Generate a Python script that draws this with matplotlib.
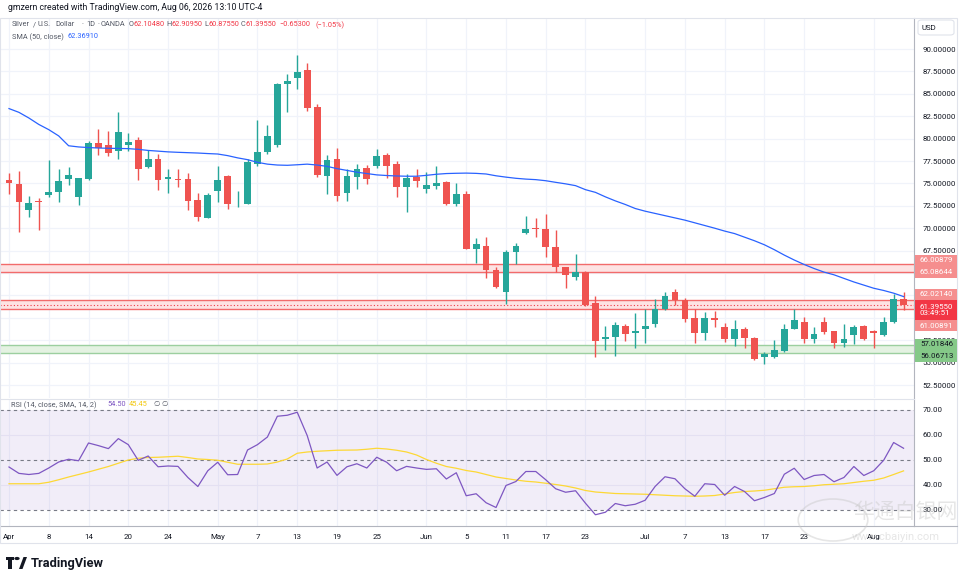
import matplotlib
matplotlib.use("Agg")
import matplotlib.pyplot as plt
from matplotlib.patches import Rectangle, FancyBboxPatch, Circle
import numpy as np

plt.rcParams['font.family'] = ['Roboto', 'DejaVu Sans']

# candles, one per trading day, Apr 1 .. Aug 6
opens = [75.37, 74.93, 72.07, 73.07, 73.66, 74.07, 75.53, 73.52, 75.49, 79.47,
         79.24, 78.62, 79.32, 79.84, 76.86, 77.72, 75.53, 75.49, 75.49, 73.14,
         71.17, 74.19, 75.79, 72.77, 72.74, 77.20, 78.54, 79.25, 86.13, 86.80,
         87.66, 83.52, 75.86, 77.72, 73.89, 75.68, 76.75, 76.98, 78.13, 77.13,
         74.64, 75.75, 74.41, 74.74, 75.16, 72.70, 73.85, 67.72, 68.01, 65.33,
         62.84, 67.31, 69.43, 70.02, 69.95, 67.87, 65.63, 64.59, 65.15, 61.61,
         57.60, 57.82, 59.12, 58.34, 58.79, 59.35, 61.02, 62.84, 61.99, 59.98,
         58.34, 59.98, 58.97, 57.60, 58.71, 57.74, 55.66, 55.66, 56.33, 58.79,
         59.53, 57.60, 59.53, 58.53, 57.15, 58.04, 59.08, 58.53, 58.04, 59.53,
         62.1048]
highs = [76.12, 76.38, 73.59, 73.33, 77.61, 76.60, 76.83, 75.64, 79.73, 81.03,
         80.85, 82.97, 80.62, 80.18, 78.73, 78.32, 76.60, 76.57, 76.12, 73.89,
         73.89, 76.94, 75.97, 74.15, 77.69, 82.07, 81.52, 86.24, 87.21, 89.33,
         88.40, 83.86, 78.17, 78.91, 76.57, 77.16, 77.01, 78.84, 78.35, 77.54,
         76.01, 76.60, 76.23, 76.98, 75.27, 75.00, 74.11, 68.91, 68.98, 65.71,
         67.57, 68.31, 71.33, 71.14, 71.55, 69.80, 65.71, 67.12, 65.19, 62.47,
         59.09, 59.53, 59.35, 60.50, 60.95, 62.10, 62.92, 63.18, 62.21, 60.95,
         60.69, 60.76, 59.46, 59.72, 59.01, 57.89, 56.18, 57.52, 59.31, 60.95,
         60.05, 58.94, 60.13, 58.53, 59.31, 59.23, 59.16, 58.64, 60.05, 62.62,
         62.9095]
lows = [73.78, 69.61, 71.21, 69.83, 73.44, 72.88, 74.85, 72.59, 75.41, 78.17,
        78.10, 77.76, 78.65, 75.42, 76.75, 74.23, 73.97, 74.63, 72.07, 70.84,
        71.17, 72.92, 72.18, 72.40, 72.66, 76.94, 78.28, 79.10, 83.00, 85.57,
        83.12, 75.75, 73.85, 73.07, 73.07, 74.41, 74.97, 76.75, 75.56, 73.52,
        71.85, 74.64, 73.89, 74.41, 72.59, 72.51, 67.68, 66.15, 64.40, 63.36,
        61.58, 65.97, 69.35, 69.06, 66.82, 65.11, 63.36, 64.26, 61.35, 55.66,
        56.41, 55.77, 57.41, 56.59, 57.23, 58.94, 60.91, 61.39, 59.57, 57.23,
        57.52, 59.01, 57.34, 56.89, 56.67, 55.29, 54.88, 55.55, 56.22, 58.71,
        57.15, 57.15, 58.19, 56.67, 56.78, 57.04, 57.52, 56.63, 57.97, 59.46,
        60.8755]
closes = [75.08, 72.92, 72.81, 72.88, 74.04, 75.26, 75.94, 75.56, 79.50, 78.91,
          78.35, 80.74, 79.66, 76.64, 77.72, 75.42, 75.71, 75.42, 73.07, 71.28,
          73.71, 75.38, 72.74, 72.81, 77.35, 78.50, 80.29, 86.09, 86.46, 87.43,
          83.45, 75.97, 77.61, 73.63, 75.83, 76.60, 75.45, 78.06, 76.90, 74.64,
          75.60, 75.27, 74.82, 75.00, 72.66, 73.85, 67.72, 68.20, 65.37, 63.44,
          67.31, 68.05, 69.95, 69.95, 67.87, 65.71, 64.81, 65.07, 61.43, 57.37,
          57.82, 59.20, 58.23, 58.53, 59.12, 60.98, 62.43, 62.02, 59.90, 58.27,
          59.98, 59.79, 57.60, 58.71, 57.78, 55.44, 55.92, 56.41, 58.71, 59.72,
          57.60, 58.15, 58.41, 57.15, 57.60, 58.94, 57.60, 58.27, 59.53, 62.10,
          61.3955]

sma50 = [83.35, 82.93, 82.30, 81.58, 81.00, 80.30, 79.20, 79.07, 79.00, 78.95,
         78.92, 78.90, 78.88, 78.80, 78.68, 78.60, 78.52, 78.47, 78.43, 78.39,
         78.33, 78.28, 78.10, 77.85, 77.65, 77.35, 77.15, 77.05, 77.02, 77.08,
         77.15, 77.05, 76.90, 76.65, 76.45, 76.25, 76.10, 75.95, 75.88, 75.83,
         75.80, 75.80, 75.90, 76.02, 76.10, 76.13, 76.15, 76.12, 76.05, 75.85,
         75.70, 75.57, 75.48, 75.42, 75.30, 75.12, 74.95, 74.75, 74.30, 74.00,
         73.50, 73.05, 72.65, 72.20, 71.90, 71.65, 71.40, 71.15, 70.90, 70.60,
         70.30, 70.00, 69.68, 69.40, 69.00, 68.60, 68.15, 67.60, 67.00, 66.45,
         65.95, 65.50, 65.10, 64.80, 64.40, 64.00, 63.65, 63.30, 63.05, 62.75,
         62.37]

rsi = [47.0, 44.45, 44.0, 44.45, 46.6, 49.0, 50.1, 49.5, 56.6, 55.55,
       54.35, 58.35, 55.95, 49.66, 51.4, 47.1, 47.4, 47.25, 42.8, 39.2,
       45.5, 48.9, 43.9, 44.0, 53.8, 55.95, 59.0, 67.3, 67.7, 68.9,
       59.6, 46.6, 49.0, 43.65, 47.1, 48.3, 46.6, 50.9, 48.9, 45.5,
       47.25, 46.6, 46.05, 46.3, 42.2, 44.7, 35.5, 36.3, 32.7, 30.8,
       39.6, 41.2, 45.2, 45.2, 41.9, 38.3, 36.9, 37.5, 32.5, 27.9,
       28.9, 32.4, 31.5, 32.1, 33.7, 39.2, 43.1, 42.3, 38.3, 35.3,
       40.3, 40.0, 35.7, 39.2, 37.2, 33.5, 34.8, 36.4, 44.1, 46.5,
       42.0, 43.6, 44.0, 41.1, 42.8, 47.2, 43.6, 45.5, 49.7, 56.8,
       54.5]
rsi_sma = [40.3, 40.3, 40.3, 40.3, 40.9, 41.9, 43.0, 44.0, 45.0, 46.1,
           47.2, 48.5, 49.8, 50.5, 50.8, 50.9, 51.1, 51.3, 50.8, 50.2,
           50.0, 49.7, 48.9, 48.1, 48.1, 48.1, 48.2, 49.0, 50.2, 52.5,
           53.0, 53.3, 53.5, 53.7, 53.75, 53.8, 54.1, 54.5, 54.2, 53.7,
           53.0, 51.8, 50.0, 48.5, 47.2, 46.5, 45.6, 45.0, 44.0, 43.0,
           42.4, 41.8, 41.3, 41.0, 40.5, 40.0, 39.4, 38.6, 37.6, 37.0,
           36.7, 36.4, 36.3, 36.2, 36.1, 35.9, 35.7, 35.5, 35.4, 35.3,
           35.4, 35.6, 36.2, 36.8, 37.2, 37.4, 37.7, 38.3, 38.9, 39.1,
           39.2, 39.5, 39.9, 40.1, 40.3, 40.8, 41.3, 41.7, 42.6, 44.0,
           45.45]

tick_idx = [0, 4, 8, 12, 16, 21, 25, 29, 33, 37, 42, 46, 50, 54, 58, 64, 68, 72, 76, 80, 87]
tick_lab = ['Apr', '8', '14', '20', '24', 'May', '7', '13', '19', '25', 'Jun', '5', '11',
            '17', '23', 'Jul', '7', '13', '17', '23', 'Aug']

price_ticks = [52.5, 55, 57.5, 60, 62.5, 65, 67.5, 70, 72.5, 75, 77.5, 80, 82.5, 85, 87.5, 90]
zone_hi = (65.08644, 66.00879)
zone_mid = (61.00891, 62.02140)
zone_lo = (56.06713, 57.01846)
last_price = 61.3955

UP = '#26a69a'
DOWN = '#ef5350'
TXT = '#131722'
GRID = '#f0f3fa'
FS = 5.7
LFS = 5.3

W, H = 964, 582
fig = plt.figure(figsize=(W / 100, H / 100), dpi=100)
fig.patch.set_facecolor('white')


def fx(px):
    return px / W


def fy(py):
    return 1 - py / H


ax = fig.add_axes([0, fy(398), fx(914), (398 - 18) / H])
ar = fig.add_axes([0, fy(526), fx(914), (526 - 399) / H])

n = len(closes)
x = np.arange(n)

for a in (ax, ar):
    a.set_xlim(-0.905, 91.05)
    for t in tick_idx:
        a.axvline(t, color=GRID, lw=0.9, zorder=0)
    for s in ('left', 'top', 'bottom'):
        a.spines[s].set_visible(False)
    a.spines['right'].set_color('#b2b5be')
    a.spines['right'].set_linewidth(0.8)
    a.yaxis.tick_right()
    a.tick_params(axis='y', length=0, labelsize=FS, labelcolor=TXT, pad=6)
    a.tick_params(axis='x', length=0)

# price pane
ax.set_ylim(51.05, 93.46)
ax.set_yticks(price_ticks)
ax.set_yticklabels(['%.5f' % p for p in price_ticks])
for p in price_ticks:
    ax.axhline(p, color=GRID, lw=0.9, zorder=0)
ax.set_xticks([])

for lo, hi, fc, ec in [(zone_hi[0], zone_hi[1], '#fde3e3', '#f26b6b'),
                       (zone_mid[0], zone_mid[1], '#fde3e3', '#f26b6b'),
                       (zone_lo[0], zone_lo[1], '#e4f2e2', '#9ccf9f')]:
    ax.axhspan(lo, hi, color=fc, zorder=1, lw=0)
    ax.axhline(lo, color=ec, lw=1.0, zorder=1.5)
    ax.axhline(hi, color=ec, lw=1.0, zorder=1.5)
ax.axhline(last_price, color='#f23645', lw=0.8, ls=(0, (1, 2)), zorder=1.6)

o = np.array(opens); c = np.array(closes)
cols = [UP if cc >= oo else DOWN for oo, cc in zip(o, c)]
ax.vlines(x, lows, highs, colors=cols, lw=1.0, zorder=3)
body = np.maximum(np.abs(c - o), 0.07)
ax.bar(x, body, bottom=np.minimum(o, c), width=0.68, color=cols, zorder=4, lw=0)
ax.plot(x, sma50, color='#2962ff', lw=0.9, zorder=5)

# rsi pane
ar.set_ylim(23.4, 74.2)
ar.axhspan(30, 70, color='#7e57c2', alpha=0.1, lw=0, zorder=0.5)
for lv in (40, 60):
    ar.axhline(lv, color='#e4e0f2', lw=0.8, zorder=0.6)
for lv in (30, 50, 70):
    ar.axhline(lv, color='#787b86', lw=0.8, ls=(0, (3, 3)), zorder=1)
ar.plot(x, rsi_sma, color='#fdd835', lw=0.9, zorder=2)
ar.plot(x, rsi, color='#7e57c2', lw=0.9, zorder=3)
ar.set_yticks([30, 40, 50, 60, 70])
ar.set_yticklabels(['30.00', '40.00', '50.00', '60.00', '70.00'])
ar.set_xticks(tick_idx)
ar.set_xticklabels(tick_lab, fontsize=FS, color=TXT)
ar.tick_params(axis='x', pad=6)
ar.spines['bottom'].set_visible(True)
ar.spines['bottom'].set_color('#b2b5be')
ar.spines['bottom'].set_linewidth(0.8)

# pane separator, frame
fig.add_artist(plt.Line2D([0, fx(914)], [fy(398.5), fy(398.5)], color='#e0e3eb', lw=0.8))
fig.add_artist(plt.Line2D([fx(914), fx(957)], [fy(526), fy(526)], color='#b2b5be', lw=0.8))
fig.add_artist(Rectangle((0, fy(543)), fx(957), (543 - 18) / H, transform=fig.transFigure,
                         fill=False, ec='#e0e3eb', lw=0.8))

# header texts, each piece at its own x position
fig.text(fx(8), fy(8), 'gmzern created with TradingView.com, Aug 06, 2026 13:10 UTC-4',
         fontsize=6.3, color='#131722', va='center')
GR = '#555a66'
RD = '#f23645'
legend1 = [(12, 'Silver', GR), (33, '/', GR), (38, 'U.S.', GR), (55, 'Dollar', GR),
           (81, '·', GR), (86, '1D', GR), (97, '·', GR), (101, 'OANDA', GR),
           (128.5, 'O', GR), (134, '62.10480', RD),
           (166, 'H', GR), (171.5, '62.90950', RD), (204, 'L', GR), (208.5, '60.87550', RD),
           (241, 'C', GR), (246, '61.39550', RD), (279, '−0.65300', RD), (315, '(−1.05%)', RD)]
for px, s, col in legend1:
    fig.text(fx(px), fy(25), s, fontsize=LFS, color=col, va='center')
for px, s, col in [(12, 'SMA (50, close)', GR), (68, '62.36910', '#2962ff')]:
    fig.text(fx(px), fy(37), s, fontsize=LFS, color=col, va='center')
for px, s, col in [(11, 'RSI (14, close, SMA, 14, 2)', GR), (107, '54.50', '#7e57c2'),
                   (129, '45.45', '#f2c80f'), (153, '∅', GR), (161, '∅', GR)]:
    fig.text(fx(px), fy(405), s, fontsize=LFS, color=col, va='center')

# USD box
fig.add_artist(FancyBboxPatch((fx(918), fy(35)), fx(36), 15 / H, transform=fig.transFigure,
                              boxstyle='round,pad=0,rounding_size=0.004', fc='white',
                              ec='#e0e3eb', lw=0.8))
fig.text(fx(922), fy(27.5), 'USD', fontsize=FS, color=TXT, va='center')

# right price labels
labels = [(255, 266, '%.5f' % zone_hi[1], '#f58e8e', 'white'),
          (266, 278, '%.5f' % zone_hi[0], '#f58e8e', 'white'),
          (289, 300, '%.5f' % zone_mid[1], '#f58e8e', 'white'),
          (300, 320, '%.5f\n03:49:51' % last_price, '#f23645', 'white'),
          (320, 331, '%.5f' % zone_mid[0], '#f58e8e', 'white'),
          (339, 350, '%.5f' % zone_lo[1], '#85c988', TXT),
          (350, 362, '%.5f' % zone_lo[0], '#85c988', TXT)]
for y0, y1, s, bg, tc in labels:
    fig.add_artist(Rectangle((fx(915), fy(y1)), fx(42), (y1 - y0) / H,
                             transform=fig.transFigure, fc=bg, ec='none'))
    fig.text(fx(920), fy((y0 + y1) / 2), s, fontsize=FS, color=tc, va='center',
             linespacing=1.05)

# TradingView logo
fig.add_artist(Rectangle((fx(8), fy(569)), fx(4), 9 / H, transform=fig.transFigure,
                         fc='#131722', ec='none'))
fig.add_artist(Rectangle((fx(6), fy(560)), fx(8), 3 / H, transform=fig.transFigure,
                         fc='#131722', ec='none'))
fig.add_artist(Circle((fx(17), fy(558.5)), 1.6 / H, transform=fig.transFigure,
                      fc='#131722', ec='none'))
fig.add_artist(plt.Polygon([(fx(19), fy(569)), (fx(23.5), fy(557)), (fx(27), fy(557)),
                            (fx(22.5), fy(569))], closed=True, transform=fig.transFigure,
                           fc='#131722', ec='none'))
fig.text(fx(31), fy(563), 'TradingView', fontsize=9.3, fontweight='bold', color='#131722',
         va='center')

# faint watermark
fig.add_artist(Circle((fx(833), fy(520)), 21 / H, transform=fig.transFigure, fill=False,
                      ec='#c8c8c8', lw=1.2, alpha=0.45))
fig.text(fx(853), fy(512), '华通白银网', fontsize=15, color='#c8c8c8', alpha=0.45,
         va='center', family=['Noto Sans CJK SC', 'DejaVu Sans'])
fig.text(fx(852), fy(537), 'www.cbaiyin.com', fontsize=8, color='#c8c8c8', alpha=0.45,
         va='center')

fig.savefig('out.png', dpi=100, facecolor='white')
